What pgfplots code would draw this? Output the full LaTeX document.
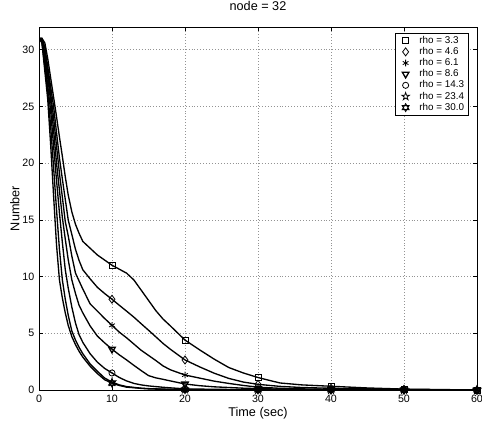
\documentclass[border=0pt]{standalone}
\usepackage{fontspec}
\setmainfont{Liberation Sans}
\usepackage{pgfplots}
\usepackage{pgfplotstable}
\pgfplotsset{compat=1.18}

% outline stars like matlab's 'p' and 'h' markers
\pgfdeclareplotmark{pentagram}{%
  \pgfpathmoveto{\pgfpointpolar{90}{\pgfplotmarksize}}%
  \pgfpathlineto{\pgfpointpolar{126}{0.382\pgfplotmarksize}}%
  \pgfpathlineto{\pgfpointpolar{162}{\pgfplotmarksize}}%
  \pgfpathlineto{\pgfpointpolar{198}{0.382\pgfplotmarksize}}%
  \pgfpathlineto{\pgfpointpolar{234}{\pgfplotmarksize}}%
  \pgfpathlineto{\pgfpointpolar{270}{0.382\pgfplotmarksize}}%
  \pgfpathlineto{\pgfpointpolar{306}{\pgfplotmarksize}}%
  \pgfpathlineto{\pgfpointpolar{342}{0.382\pgfplotmarksize}}%
  \pgfpathlineto{\pgfpointpolar{18}{\pgfplotmarksize}}%
  \pgfpathlineto{\pgfpointpolar{54}{0.382\pgfplotmarksize}}%
  \pgfpathclose\pgfusepathqstroke}
\pgfdeclareplotmark{hexagram}{%
  \pgfpathmoveto{\pgfpointpolar{90}{\pgfplotmarksize}}%
  \pgfpathlineto{\pgfpointpolar{210}{\pgfplotmarksize}}%
  \pgfpathlineto{\pgfpointpolar{330}{\pgfplotmarksize}}%
  \pgfpathclose
  \pgfpathmoveto{\pgfpointpolar{270}{\pgfplotmarksize}}%
  \pgfpathlineto{\pgfpointpolar{30}{\pgfplotmarksize}}%
  \pgfpathlineto{\pgfpointpolar{150}{\pgfplotmarksize}}%
  \pgfpathclose\pgfusepathqstroke}

% number of nodes left vs time, one column per rho
\pgfplotstableread{
t    a     b     c     d     e     f     g
0    31    31    31    31    31    31    31
0.4  31.0  31.0  30.9  30.9  30.8  30.7  30.6
0.8  30.6  30.2  29.8  29.5  29.0  28.5  28.1
1.2  29.2  28.5  28.0  27.5  26.8  26.2  25.6
1.6  27.5  26.7  26.1  25.5  24.6  23.2  21.6
2.0  25.8  25.0  24.0  22.9  21.5  19.6  17.1
2.4  24.1  22.7  21.5  20.0  18.5  15.9  12.8
2.8  22.3  20.45 19.1  17.6  15.6  12.4  9.7
3.2  20.6  18.6  17.0  15.2  13.0  9.7   8.1
3.6  18.8  16.8  14.85 13.3  10.6  8.0   6.8
4.0  17.2  15.0  13.6  11.5  9.0   6.6   5.7
4.5  15.7  13.7  11.8  9.7   7.3   5.2   4.7
5    14.6  12.4  10.3  8.5   5.9   4.4   4.0
5.5  13.8  11.4  9.6   7.45  4.85  3.75  3.4
6    13.1  10.6  8.9   6.8   4.2   3.2   2.9
7    12.5  9.8   7.6   5.65  3.2   2.3   2.1
8    11.9  9.05  6.95  4.75  2.45  1.65  1.45
9    11.45 8.5   6.3   4.15  1.9   1.05  0.9
10   11.0  8.0   5.7   3.6   1.5   0.7   0.6
11   10.65 7.47  5.1   3.1   1.1   0.45  0.4
12   10.3  6.95  4.6   2.65  0.8   0.3   0.25
13   9.7   6.42  4.05  2.17  0.58  0.23  0.2
14   8.8   5.84  3.5   1.71  0.45  0.16  0.14
15   7.9   5.27  3.05  1.27  0.36  0.12  0.1
16   7.0   4.69  2.6   1.07  0.3   0.1   0.08
17   6.25  4.1   2.12  0.94  0.24  0.08  0.07
18   5.65  3.59  1.78  0.8   0.19  0.06  0.05
20   4.4   2.65  1.32  0.53  0.1   0.04  0.03
22   3.54  2.04  1.05  0.38  0.08  0.02  0.02
24   2.72  1.48  0.78  0.28  0.06  0.01  0.01
26   1.98  1.02  0.58  0.22  0.05  0.01  0
28   1.5   0.7   0.4   0.16  0.03  0     0
30   1.1   0.5   0.25  0.12  0.02  0     0
33   0.62  0.32  0.15  0.08  0.01  0     0
36   0.45  0.22  0.1   0.05  0.01  0     0
40   0.33  0.15  0.06  0.03  0     0     0
45   0.18  0.1   0.03  0.02  0     0     0
50   0.08  0.05  0.02  0.01  0     0     0
55   0.04  0.02  0.01  0     0     0     0
60   0     0     0     0     0     0     0
}\data

\begin{document}
\begin{tikzpicture}
\begin{axis}[
  at={(29.25pt,26.25pt)}, anchor=south west,
  scale only axis, width=328.5pt, height=272.25pt,
  xmin=0, xmax=60, ymin=0, ymax=32,
  xtick={0,10,...,60}, ytick={0,5,...,30},
  axis line style={black, line width=0.6pt},
  major tick length=3pt,
  tick style={black, line width=0.5pt},
  grid=major,
  major grid style={gray!85, line width=0.4pt, dash pattern=on 0.6pt off 1.6pt},
  /pgf/number format/assume math mode=true,
  tick label style={font=\fontsize{8}{9}\selectfont},
  title={node = 32},
  title style={font=\fontsize{9.5}{11}\selectfont, at={(axis description cs:0.5,1)}, anchor=base, yshift=6.5pt},
  xlabel={Time (sec)},
  xlabel style={font=\fontsize{9.5}{11}\selectfont, at={(axis description cs:0.5,0)}, anchor=base, yshift=-19.5pt},
  ylabel={Number},
  ylabel style={font=\fontsize{9.5}{11}\selectfont, at={(axis description cs:-0.055,0.5)}, anchor=center},
  legend style={at={(axis description cs:0.982,0.984)}, anchor=north east,
    font=\fontsize{7.4}{8}\selectfont, draw=black, line width=0.5pt,
    inner xsep=2pt, inner ysep=1.5pt, row sep=0pt, cells={anchor=west},
    nodes={inner ysep=0.75pt, inner xsep=1.5pt}},
  legend image code/.code={%
    \path[draw=none] (0,0) (0.52cm,0);
    \draw[#1,only marks,mark indices={1}] plot coordinates {(0.21cm,0cm)};},
  every axis plot/.append style={black, line width=1pt,
    mark indices={19,28,33,36,38,40}, mark options={solid, line width=0.6pt, fill=none}},
]
\addplot[mark=square, mark size=2.2pt] table[x=t,y=a]{\data};
\addlegendentry{rho = 3.3}
\addplot[mark=diamond, mark size=3pt] table[x=t,y=b]{\data};
\addlegendentry{rho = 4.6}
\addplot[mark=asterisk, mark size=2.5pt] table[x=t,y=c]{\data};
\addlegendentry{rho = 6.1}
\addplot[mark=triangle, mark size=2.8pt, mark options={rotate=180}] table[x=t,y=d]{\data};
\addlegendentry{rho = 8.6}
\addplot[mark=o, mark size=2.3pt] table[x=t,y=e]{\data};
\addlegendentry{rho = 14.3}
\addplot[mark=pentagram, mark size=3pt] table[x=t,y=f]{\data};
\addlegendentry{rho = 23.4}
\addplot[mark=hexagram, mark size=3pt] table[x=t,y=g]{\data};
\addlegendentry{rho = 30.0}
\end{axis}
\pgfresetboundingbox
\path[use as bounding box] (0,0) rectangle (361.5pt,318.75pt);
\end{tikzpicture}
\end{document}
